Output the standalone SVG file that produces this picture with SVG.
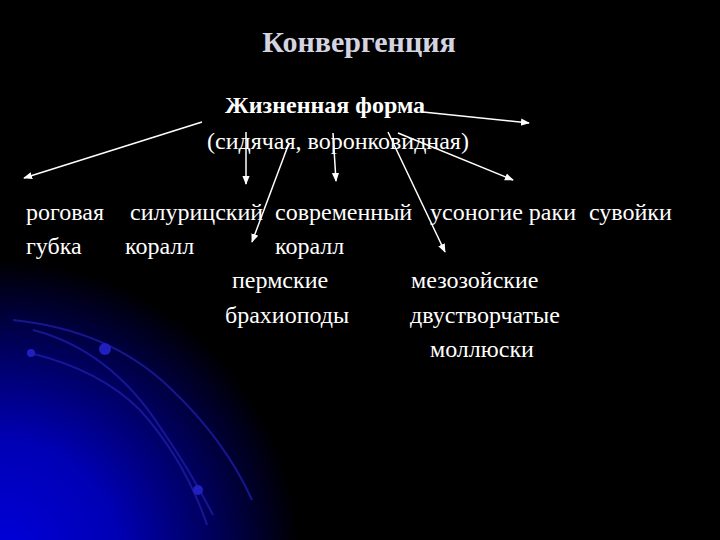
<svg xmlns="http://www.w3.org/2000/svg" width="720" height="540" viewBox="0 0 720 540">
<defs>
<radialGradient id="glow" cx="0" cy="560" r="300" gradientUnits="userSpaceOnUse">
<stop offset="0" stop-color="#0000dc"/>
<stop offset="0.4" stop-color="#0000b4"/>
<stop offset="0.75" stop-color="#000050"/>
<stop offset="1" stop-color="#000000"/>
</radialGradient>
<marker id="ah" viewBox="0 0 10 10" refX="9" refY="5" markerWidth="9" markerHeight="9" markerUnits="userSpaceOnUse" orient="auto">
<path d="M0,1 L10,5 L0,9 Z" fill="#ffffff"/>
</marker>
<style>
.t{font-family:"Liberation Serif","Times New Roman",serif;fill:#ffffff;font-size:24px}
.b{font-weight:bold}
.arc{fill:none;stroke:#1a1aa0;stroke-width:2;opacity:0.85}
.dot{fill:#2020c0}
.c{stroke:#ffffff;stroke-width:1.5;fill:none;marker-end:url(#ah)}
</style>
</defs>
<rect width="720" height="540" fill="#000000"/>
<rect width="720" height="540" fill="url(#glow)"/>
<g id="decor">
<path class="arc" d="M13,320 Q110,330 170,388 Q225,440 252,500"/>
<path class="arc" d="M33,330 Q110,350 160,427 Q190,470 213,515"/>
<path class="arc" d="M30,353 Q100,370 140,410 Q185,460 207,525"/>
<circle class="dot" cx="31" cy="353" r="4"/>
<circle class="dot" cx="105" cy="349" r="6"/>
<circle class="dot" cx="198" cy="490" r="5"/>
</g>
<g id="title"><text class="t b" x="359" y="52" text-anchor="middle" style="fill:#d4d4e0;font-size:30px">Конвергенция</text></g>
<g id="connectors">
<line class="c" x1="202" y1="122" x2="24" y2="178"/>
<line class="c" x1="423" y1="112" x2="529" y2="123"/>
<line class="c" x1="246" y1="132" x2="246" y2="184"/>
<line class="c" x1="289" y1="143" x2="252" y2="242"/>
<line class="c" x1="333" y1="133" x2="336" y2="181"/>
<line class="c" x1="388" y1="132" x2="445" y2="252"/>
<line class="c" x1="398" y1="133" x2="513" y2="180"/>
</g>
<g id="root">
<text class="t b" x="225" y="113">Жизненная форма</text>
<text class="t" x="207" y="149">(сидячая, воронковидная)</text>
</g>
<g id="n-gubka"><text class="t" x="26" y="220">роговая</text><text class="t" x="26" y="254">губка</text></g>
<g id="n-silur"><text class="t" x="130" y="220">силурицский</text><text class="t" x="125" y="254">коралл</text></g>
<g id="n-sovr"><text class="t" x="275" y="220">современный</text><text class="t" x="275" y="254">коралл</text></g>
<g id="n-raki"><text class="t" x="430" y="220">усоногие раки</text></g>
<g id="n-suvoiki"><text class="t" x="589" y="220">сувойки</text></g>
<g id="n-brach"><text class="t" x="232" y="288">пермские</text><text class="t" x="225" y="323">брахиоподы</text></g>
<g id="n-moll"><text class="t" x="411" y="288">мезозойские</text><text class="t" x="410" y="323">двустворчатые</text><text class="t" x="430" y="357">моллюски</text></g>
</svg>
